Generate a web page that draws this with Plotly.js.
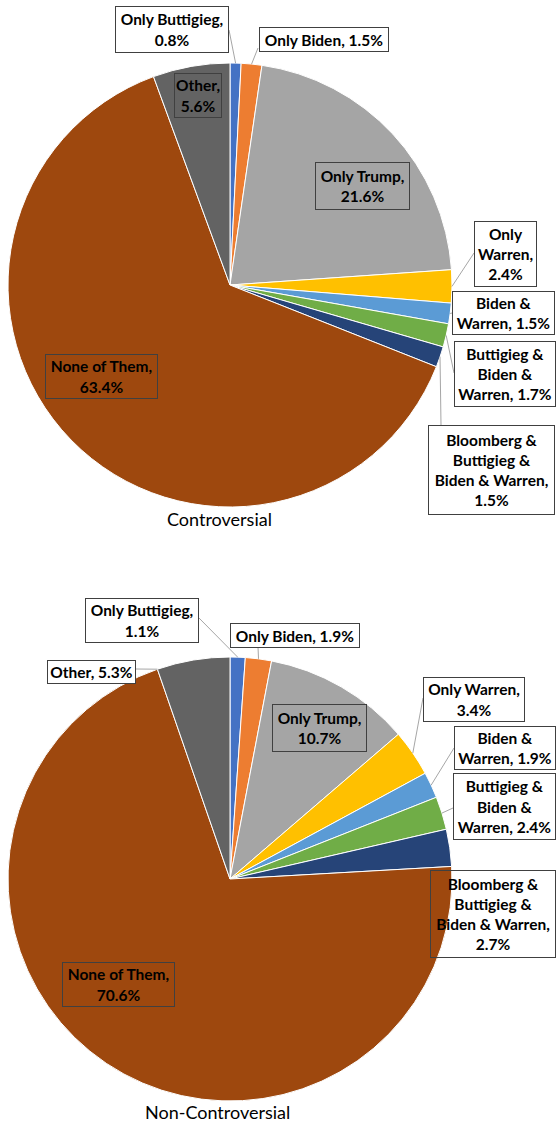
<!DOCTYPE html>
<html><head><meta charset="utf-8">
<script src="https://cdn.plot.ly/plotly-3.0.1.min.js"></script>
<style>html,body{margin:0;padding:0;background:#fff;} #chart{width:556px;height:1124px;}</style>
</head><body><div id="chart"></div>
<script>
// ---- data ----
const categories = ['Only Buttigieg', 'Only Biden', 'Only Trump', 'Only Warren', 'Biden & Warren',
  'Buttigieg & Biden & Warren', 'Bloomberg & Buttigieg & Biden & Warren', 'None of Them', 'Other'];
const controversialValues = [0.8, 1.5, 21.6, 2.4, 1.5, 1.7, 1.5, 63.4, 5.6];
const nonControversialValues = [1.1, 1.9, 10.7, 3.4, 1.9, 2.4, 2.7, 70.6, 5.3];
const sliceColors = ['#4472C4', '#ED7D31', '#A5A5A5', '#FFC000', '#5B9BD5', '#70AD47', '#264478', '#9E480E', '#636363'];
const chartTitles = ['Controversial', 'Non-Controversial'];

// ---- layout config (pixels) ----
const W = 556, H = 1124;
const FONT = 'Lato, "Open Sans", sans-serif';
const pies = [
  { values: controversialValues, title: chartTitles[0], cx: 230, cy: 285, r: 222, tx: 219, ty: 519,
    labels: [
      { words: [2, 1], x: 172, y: 29.5, w: 114, h: 47, bg: '#ffffff', lead: 'mid', ax: 229, ay: 30 },
      { words: [3], x: 323.5, y: 40, w: 130, h: 25, bg: '#ffffff', lead: 'mid', ax: 258, ay: 48 },
      { words: [2, 1], x: 362.5, y: 186, w: 95, h: 48, bg: 'rgba(0,0,0,0)' },
      { words: [1, 1, 1], x: 505.5, y: 254, w: 63, h: 66, bg: '#ffffff', lead: 'mid', ax: 474, ay: 253 },
      { words: [2, 2], x: 503.5, y: 313, w: 103, h: 44, bg: '#ffffff', lead: 'mid', ax: 452, ay: 313 },
      { words: [2, 2, 2], x: 504.5, y: 374, w: 102, h: 66, bg: '#ffffff', lead: 'mid', ax: 454, ay: 373 },
      { words: [2, 2, 3, 1], x: 491.5, y: 470, w: 127, h: 90, bg: '#ffffff', lead: 'mid', ax: 441, ay: 425 },
      { words: [3, 1], x: 101.5, y: 376.5, w: 113, h: 45, bg: 'rgba(0,0,0,0)' },
      { words: [1, 1], x: 198, y: 95, w: 48, h: 45, bg: 'rgba(0,0,0,0)' }
    ] },
  { values: nonControversialValues, title: chartTitles[1], cx: 230, cy: 879, r: 222, tx: 217, ty: 1112,
    labels: [
      { words: [2, 1], x: 142, y: 620.5, w: 114, h: 45, bg: '#ffffff', lead: 'mid', ax: 199, ay: 618 },
      { words: [3], x: 295, y: 635, w: 130, h: 25, bg: '#ffffff', lead: 'mid', ax: 258, ay: 647 },
      { words: [2, 1], x: 319.5, y: 728, w: 95, h: 48, bg: 'rgba(0,0,0,0)' },
      { words: [2, 1], x: 474, y: 699.5, w: 102, h: 45, bg: '#ffffff', lead: 'mid', ax: 423, ay: 698 },
      { words: [2, 2], x: 505, y: 748, w: 102, h: 44, bg: '#ffffff', lead: 'mid', ax: 454, ay: 748 },
      { words: [2, 2, 2], x: 504.5, y: 806, w: 103, h: 67, bg: '#ffffff', lead: 'mid', ax: 453, ay: 808 },
      { words: [2, 2, 3, 1], x: 493, y: 914, w: 126, h: 88, bg: 'rgba(0,0,0,0)' },
      { words: [3, 1], x: 118.5, y: 984.5, w: 113, h: 45, bg: 'rgba(0,0,0,0)' },
      { words: [2], x: 91.5, y: 671.5, w: 89, h: 24, bg: '#ffffff', lead: 'start', ax: 136, ay: 669 }
    ] }
];

const px = x => x / W;
const py = y => 1 - y / H;

function labelText(cat, val, words) {
  const parts = (cat + ', ' + val.toFixed(1) + '%').split(' ');
  const lines = []; let i = 0;
  words.forEach(n => { lines.push(parts.slice(i, i + n).join(' ')); i += n; });
  if (i < parts.length) lines.push(parts.slice(i).join(' '));
  return lines.join('<br>');
}

const traces = [], annotations = [], shapes = [];
pies.forEach(p => {
  traces.push({
    type: 'pie', labels: categories, values: p.values, sort: false, direction: 'clockwise', rotation: 0,
    marker: { colors: sliceColors, line: { color: '#ffffff', width: 1 } },
    textinfo: 'none', hoverinfo: 'label+percent', showlegend: false,
    domain: { x: [px(p.cx - p.r), px(p.cx + p.r)], y: [py(p.cy + p.r), py(p.cy - p.r)] }
  });
  const total = p.values.reduce((a, b) => a + b, 0);
  let cum = 0;
  p.values.forEach((v, i) => {
    const L = p.labels[i];
    const startFrac = cum / total, midFrac = (cum + v / 2) / total;
    cum += v;
    annotations.push({
      xref: 'paper', yref: 'paper', x: px(L.x), y: py(L.y), xanchor: 'center', yanchor: 'middle',
      text: labelText(categories[i], v, L.words), showarrow: false, align: 'center',
      width: L.w - 2, height: L.h - 2, borderpad: 0, borderwidth: 1, bordercolor: '#404040', bgcolor: L.bg,
      font: { family: FONT, size: 15.5, color: '#000000', weight: 'bold' }
    });
    if (L.lead) {
      const f = L.lead === 'start' ? startFrac : midFrac;
      const th = 2 * Math.PI * f;
      const ex = p.cx + p.r * Math.sin(th), ey = p.cy - p.r * Math.cos(th);
      shapes.push({ type: 'line', xref: 'paper', yref: 'paper', x0: px(ex), y0: py(ey), x1: px(L.ax), y1: py(L.ay),
        line: { color: '#A6A6A6', width: 1 }, layer: 'above' });
    }
  });
  annotations.push({ xref: 'paper', yref: 'paper', x: px(p.tx), y: py(p.ty), xanchor: 'center', yanchor: 'middle',
    text: p.title, showarrow: false, font: { family: FONT, size: 18, color: '#000000' } });
});

Plotly.newPlot('chart', traces, {
  width: W, height: H, margin: { l: 0, r: 0, t: 0, b: 0, pad: 0 },
  paper_bgcolor: '#ffffff', plot_bgcolor: '#ffffff', annotations, shapes
}, { displayModeBar: false, staticPlot: true });
</script></body></html>
